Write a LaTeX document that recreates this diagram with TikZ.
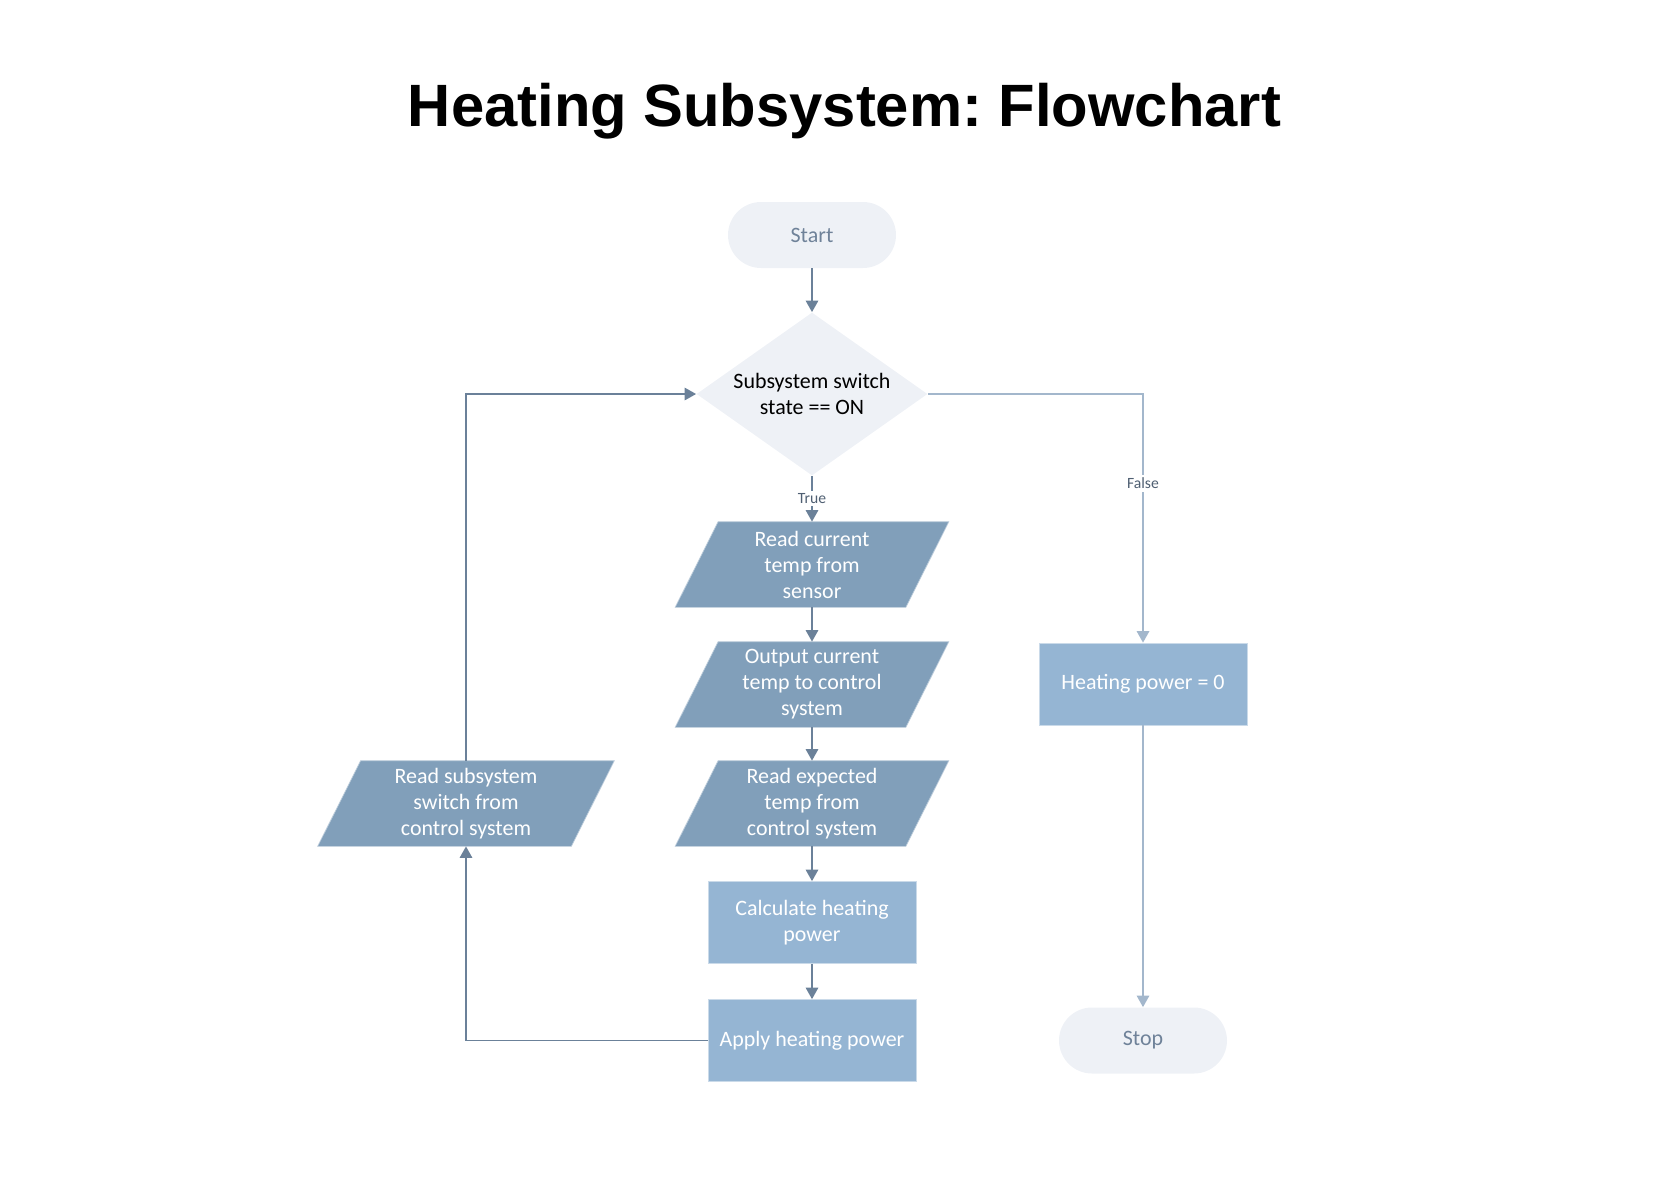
\documentclass[tikz,border=0pt]{standalone}
\usepackage{fontspec}
\setmainfont{Carlito}
\newfontfamily\titlefont{Liberation Sans}
\usetikzlibrary{shapes.geometric, arrows.meta, positioning, calc, backgrounds}
\definecolor{termfill}{HTML}{EEF1F6}
\definecolor{termtext}{HTML}{6F8299}
\definecolor{iofill}{HTML}{819FBA}
\definecolor{procfill}{HTML}{95B5D3}
\definecolor{linedark}{HTML}{6B8199}
\definecolor{linelight}{HTML}{A3B7CC}
\definecolor{labeltext}{HTML}{4F5F72}
\frenchspacing

\begin{document}
\begin{tikzpicture}[
    txt/.style={font=\fontsize{12.5}{14.8}\selectfont, align=center},
    title/.style={font=\titlefont\bfseries\fontsize{34}{40}\selectfont, anchor=base},
    term/.style={rectangle, rounded corners=0.66cm, fill=termfill, text=termtext, minimum width=3.36cm, minimum height=1.32cm, txt},
    decision/.style={diamond, aspect=1.42, fill=termfill, text=black, minimum width=4.62cm, minimum height=3.26cm, inner sep=0pt, txt},
    io/.style={rectangle, minimum width=4.6cm, minimum height=1.7cm, inner sep=0pt, text=white, txt},
    proc/.style={rectangle, fill=procfill, draw=procfill!50!white, line width=0.4pt, minimum width=4.16cm, minimum height=1.64cm, text=white, txt},
    lbl/.style={font=\fontsize{8.9}{10}\selectfont, text=labeltext, fill=white, inner sep=1.5pt},
    arrow/.style={-{Triangle[width=7pt,length=6.5pt]}, draw=linedark, line width=1pt}
]
    \useasboundingbox (0,0) rectangle (33.5,-23.66);

    % Title
    \node [title] (title) at (16.89, -2.52) {Heating Subsystem: Flowchart};

    % Main column
    \node [term] (start) at (16.24, -4.70) {Start};
    \node [decision] (cond) at (16.24, -7.88) {Subsystem switch\\state == ON};
    \node [io] (readcur) at (16.24, -11.29) {Read current\\temp from\\sensor};
    \node [io] (outcur) at (16.24, -13.69) {Output current\\temp to control\\system};
    \node [io] (readexp) at (16.24, -16.07) {Read expected\\temp from\\control system};
    \node [proc] (calc) at (16.24, -18.45) {Calculate heating\\power};
    \node [proc] (apply) at (16.24, -20.81) {Apply heating power};

    % Loop back
    \node [io, minimum width=5.06cm] (readsw) at (9.32, -16.07) {Read subsystem\\switch from\\control system};

    % False branch
    \node [proc] (hpzero) at (22.86, -13.68) {Heating power = 0};
    \node [term] (stop) at (22.86, -20.81) {Stop};

    % Parallelograms behind the io nodes
    \begin{scope}[on background layer]
        \foreach \n in {readcur, outcur, readexp, readsw}
            \filldraw [fill=iofill, draw=iofill!50!white, line width=0.4pt]
                ([xshift=0.43cm]\n.north west) -- ([xshift=0.43cm]\n.north east)
                -- ([xshift=-0.43cm]\n.south east) -- ([xshift=-0.43cm]\n.south west) -- cycle;
    \end{scope}

    % Arrows
    \draw [arrow] (start) -- (cond);
    \draw [arrow] (cond) -- node [lbl] {True} (readcur);
    \draw [arrow] (readcur) -- (outcur);
    \draw [arrow] (outcur) -- (readexp);
    \draw [arrow] (readexp) -- (calc);
    \draw [arrow] (calc) -- (apply);
    \draw [arrow] (apply.west) -| (readsw.south);
    \draw [arrow] (readsw.north) |- (cond.west);
    \draw [arrow, draw=linelight] (cond.east) -| node [lbl, pos=0.68] {False} (hpzero.north);
    \draw [arrow, draw=linelight] (hpzero) -- (stop);
\end{tikzpicture}
\end{document}
